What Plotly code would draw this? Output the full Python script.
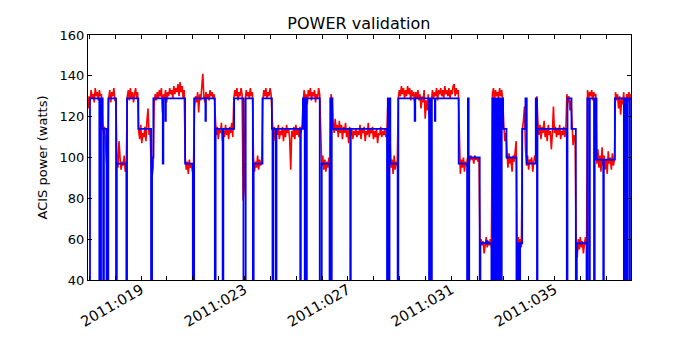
import plotly.graph_objects as go

# =======================
# Data (day of year 2011)
# =======================

# modelled power: step breakpoints (day, watts); 0 = model dropped off scale
model_days = [
    16.950, 17.027, 17.388, 17.453, 17.519, 17.538, 17.566, 17.666, 17.736, 18.034,
    18.065, 18.433, 18.460, 18.897, 19.389, 19.428, 19.478, 19.842, 19.865, 19.943,
    19.962, 20.705, 21.004, 21.054, 21.491, 21.511, 21.855, 21.886, 22.157, 22.184,
    22.602, 22.962, 23.048, 23.326, 23.357, 23.698, 24.062, 24.085, 24.112, 24.209,
    24.240, 25.158, 25.181, 25.262, 25.332, 25.359, 25.390, 25.413, 25.913, 25.990,
    26.292, 26.319, 26.350, 26.377, 26.404, 27.093, 27.113, 28.514, 28.545, 28.576,
    28.611, 28.642, 28.925, 28.952, 29.583, 29.606, 30.140, 30.171, 30.210, 30.249,
    30.365, 30.384, 31.286, 31.611, 31.642, 31.673, 31.693, 32.099, 32.126, 32.359,
    32.397, 32.552, 32.591, 32.630, 32.688, 32.726, 32.784, 32.823, 32.862, 32.920,
    32.951, 33.005, 33.133, 33.520, 33.570, 33.636, 33.663, 33.741, 33.868, 33.919,
    34.267, 34.314, 34.333, 35.467, 35.494, 35.649, 35.816, 35.855, 36.230, 36.261,
    36.335, 36.358, 36.520, 36.547, 36.617, 36.877, 36.900, 37.326, 37.674, 37.701,
    37.760, 37.800, 37.880, 37.910, 37.950,
]
model_watts = [
    0, 129, 0, 129, 114, 0, 114, 0, 129, 0,
    97, 0, 129, 114, 0, 100, 129, 97, 129, 118,
    129, 97, 0, 129, 118, 129, 0, 114, 0, 114,
    129, 0, 129, 0, 97, 129, 114, 0, 114, 0,
    114, 0, 114, 129, 0, 129, 0, 129, 0, 97,
    0, 129, 0, 129, 114, 0, 114, 0, 129, 0,
    129, 97, 0, 129, 118, 129, 0, 129, 0, 129,
    118, 129, 97, 0, 129, 0, 100, 0, 58, 59,
    58, 0, 129, 0, 129, 0, 129, 0, 129, 0,
    129, 114, 100, 0, 58, 0, 58, 114, 129, 97,
    129, 0, 114, 0, 129, 114, 0, 58, 0, 129,
    0, 129, 0, 129, 99, 0, 99, 129, 0, 129,
    0, 129, 0, 129, 129,
]

# telemetry power, sampled at a fixed cadence
telem_start = 16.95
telem_step = 0.04
telem_watts = [
    # 017
    124, 130, 127, 133, 129, 131, 127, 134, 130, 132, 128,
    133, 130, 131,
    118, 112, 115,
    105, 97, 100,
    129, 133, 127, 132, 130, 134, 128,
    128,
    99, 95, 108, 100, 94, 98, 96, 101, 93, 97,
    130, 133, 128, 134, 129, 132, 127, 131, 134, 129, 132,
    113, 109, 116, 107, 112, 110, 115, 108, 118, 124, 111, 114,
    97, 91, 95,
    # 019 - 020
    127, 131, 128, 132, 129, 133, 130, 134, 122, 131,
    129, 133, 127, 132, 130, 134, 131, 133, 129, 135,
    131, 134, 132, 136, 130, 137, 132, 135, 129, 133,
    100, 94, 98, 92, 99, 95, 97, 93,
    96,
    124, 130, 127, 132, 122, 131, 128, 133, 141, 130,
    127, 132, 129, 131, 128, 133, 130, 132, 129, 131,
    116, 111, 115, 109, 114, 112, 117, 108, 113, 110,
    116, 111, 114, 109, 115, 112, 117, 110,
    # 022 - 024
    129, 133, 130, 134, 128, 132, 130, 134, 131,
    79, 85,
    128, 133, 130, 132, 129, 134, 130, 132,
    100, 93, 98, 95, 101, 94, 99, 96, 98,
    128, 133, 130, 134, 129, 132, 130, 134, 131,
    118, 110, 115, 108, 114, 111, 116, 109, 113, 111,
    115, 108, 114, 110, 116, 112, 114, 109, 94, 113,
    110, 115, 109, 116, 111, 114, 110, 115, 112, 116,
    # 025 - 026
    127, 133, 129, 131, 126, 133, 130, 134, 128, 132,
    130, 133, 127, 131, 129, 134, 131,
    104, 96, 101, 94, 99, 93, 98, 95, 100, 97,
    131, 128,
    117, 112, 119, 113, 116, 110, 118, 112, 116, 109,
    115, 112, 117, 110, 114, 107, 115, 111, 114, 109,
    113, 111, 114, 110, 113, 111, 116, 109, 114, 112,
    115, 108, 113, 111, 117, 110, 114, 112, 115, 109,
    113, 110, 114, 107, 112, 111, 115, 110, 113, 111,
    114, 110, 113,
    128, 124,
    103, 95, 99, 92, 101, 94, 98, 96,
    # 029 - 031
    129, 133, 130, 135, 131, 134, 129, 133, 130, 135,
    131, 134, 128, 133, 130, 132, 126, 132, 129, 133,
    128, 131, 124, 130, 127, 133, 119, 128, 123, 131,
    120, 129, 127, 133, 129, 132, 130, 134, 128, 133,
    131, 134, 130, 133, 129, 135, 131, 133, 130, 134,
    129, 133, 131, 135, 136, 130, 134, 131, 133,
    101, 92, 99, 95, 100, 93, 98, 96, 100,
    101, 98, 101, 99, 100, 97, 101, 99, 100, 98, 100,
    # 032 - 034
    55, 60, 57, 59, 53, 58, 61, 56, 59, 57, 60, 56,
    131, 134, 128, 133, 130, 132, 129, 134, 130, 133, 128,
    116, 108, 112,
    101, 95, 102, 97, 100, 93, 101, 98, 103, 108,
    55, 61, 57, 60, 56,
    114, 118, 125,
    104, 96, 101, 94, 99, 97, 100, 93, 98, 101, 99,
    130,
    117, 111, 116, 109, 115, 112, 118, 110, 114, 108,
    116, 111, 113, 104, 112, 125, 112, 115, 110, 114,
    111, 116, 109, 113, 111, 115, 110, 113,
    # 035 - 037
    131, 127, 130, 123, 128,
    113, 106, 111, 108,
    57, 51, 60, 55, 61, 56, 59, 53, 58, 61, 57,
    133, 129, 132, 130, 133, 128, 132, 130, 131,
    97, 104, 95, 101, 93, 105, 96, 101, 94, 99,
    92, 103, 97, 100, 94, 102, 96, 99,
    132, 128, 131, 124, 130, 121, 129, 126, 132, 119,
    128, 131, 127, 132, 129, 131,
]

tick_days = list(range(17, 38))
label_days = [19, 23, 27, 31, 35]
tick_text = ["2011:%03d" % d if d in label_days else "" for d in tick_days]

FONT = "DejaVu Sans"

fig = go.Figure()

fig.add_trace(go.Scatter(
    x0=telem_start, dx=telem_step, y=telem_watts,
    mode="lines", line=dict(color="#ff0000", width=1.6),
    showlegend=False, hoverinfo="skip",
))

fig.add_trace(go.Scatter(
    x=model_days, y=model_watts,
    mode="lines", line=dict(color="#0000ff", width=1.8, shape="hv"),
    showlegend=False, hoverinfo="skip",
))

# page body keeps an 8px margin, so the figure is 16px smaller than the window
fig.update_layout(
    width=684, height=334,
    margin=dict(l=80, r=61, t=27, b=62),
    paper_bgcolor="white", plot_bgcolor="white",
    font=dict(family=FONT, size=13, color="black"),
    title=dict(text="POWER validation", x=0.513, xanchor="center",
               y=0.955, yanchor="middle", font=dict(size=16)),
)

fig.update_xaxes(
    range=[16.95, 37.95],
    tickvals=tick_days, ticktext=tick_text, tickangle=-30,
    ticks="inside", ticklen=4, tickcolor="black",
    showline=True, linecolor="black", linewidth=1, mirror="ticks",
    showgrid=False, zeroline=False,
    tickfont=dict(size=14.5), ticklabelstandoff=-5,
)
fig.update_yaxes(
    range=[40, 160], dtick=20, tick0=40,
    ticks="inside", ticklen=4, tickcolor="black",
    showline=True, linecolor="black", linewidth=1, mirror="ticks",
    showgrid=False, zeroline=False,
    tickfont=dict(size=13),
    title=dict(text="ACIS power (watts)", font=dict(size=13), standoff=9),
)

fig.write_html("out.html")
